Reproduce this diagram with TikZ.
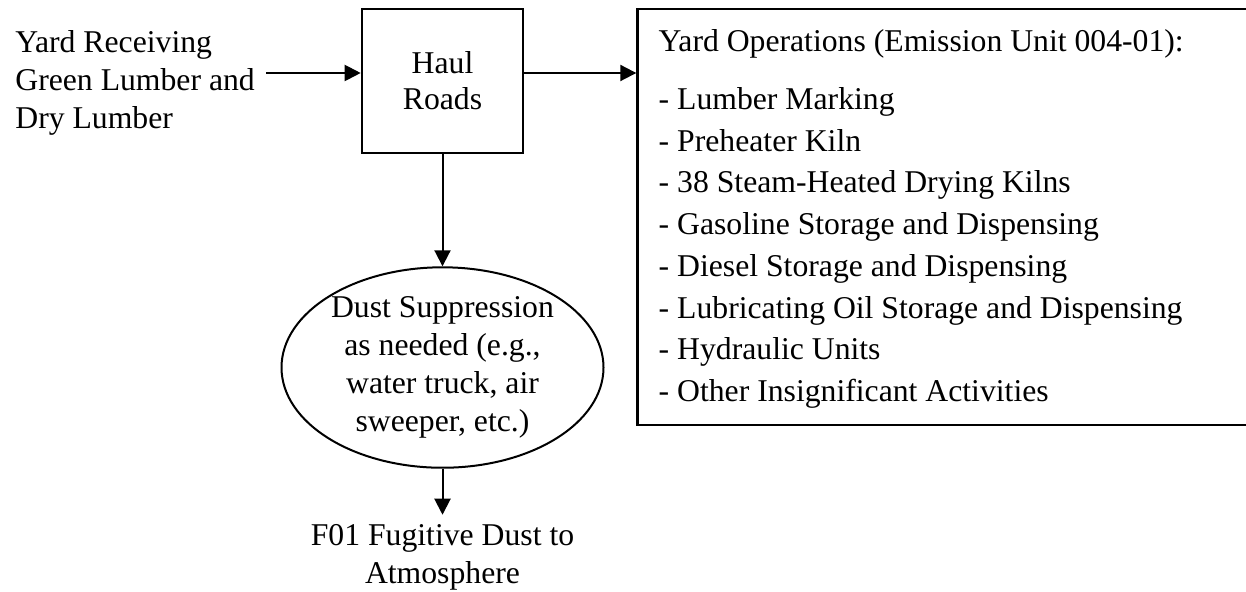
\documentclass[tikz,border=0pt]{standalone}
\usepackage{fontspec}
\setmainfont{Liberation Serif}
\usetikzlibrary{arrows.meta,positioning,shapes.geometric}

\begin{document}
\begin{tikzpicture}[x=0.5pt,y=-0.5pt,
        every node/.style={font=\fontsize{15.85pt}{19pt}\selectfont},
        txt/.style={inner sep=0pt, align=left},
        box/.style={draw, line width=1.3pt},
        flow/.style={-{Triangle[length=8pt,width=8pt]}, line width=1pt}]
    \useasboundingbox (0,0) rectangle (1246,592);
    \node[box, minimum width=80.5pt, minimum height=72pt, align=center,
        font=\fontsize{15.85pt}{18pt}\selectfont] (haul) at (442.5,81) {Haul\\Roads};
    \node[txt, inner xsep=5.5pt, anchor=north west] (yard) at (4,30)
        {Yard Receiving\\Green Lumber and\\Dry Lumber};
    \node[ellipse, draw, line width=1pt, minimum width=161pt, minimum height=96pt,
        inner sep=0pt, align=center, below=56pt of haul] (dust)
        {Dust Suppression\\as needed (e.g.,\\water truck, air\\sweeper, etc.)};
    \node[txt, align=center, inner ysep=4.5pt, below=23pt of dust] (fugitive)
        {F01 Fugitive Dust to\\Atmosphere};
    \node[box, minimum width=330pt, minimum height=208pt, anchor=north west] (ops)
        at ([xshift=56pt]haul.north east) {};
    \node[txt, font=\fontsize{15.85pt}{20.85pt}\selectfont,
        below right=10.5pt and 11pt of ops.north west] (opslist)
        {Yard Operations (Emission Unit 004-01):\\[8.4pt]
        - Lumber Marking\\
        - Preheater Kiln\\
        - 38 Steam-Heated Drying Kilns\\
        - Gasoline Storage and Dispensing\\
        - Diesel Storage and Dispensing\\
        - Lubricating Oil Storage and Dispensing\\
        - Hydraulic Units\\
        - Other Insignificant Activities};
    % arrows
    \coordinate (haulwest) at ([yshift=4pt]haul.west);
    \coordinate (hauleast) at ([yshift=4pt]haul.east);
    \draw[flow] (yard.east |- haulwest) -- (haulwest);
    \draw[flow] (hauleast) -- (hauleast -| ops.west);
    \draw[flow] (haul.south) -- (dust.north);
    \draw[flow] (dust.south) -- (fugitive.north);
\end{tikzpicture}
\end{document}
